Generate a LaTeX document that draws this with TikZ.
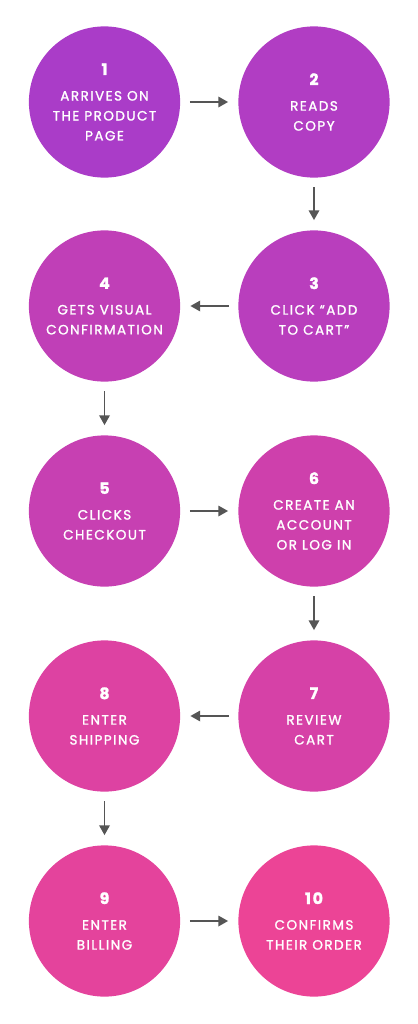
\documentclass[tikz,border=0pt]{standalone}
\usepackage{fontspec}
\setmainfont{Poppins}
\newfontfamily\capsfont[LetterSpace=11,FakeBold=1.4]{Poppins}
\usetikzlibrary{arrows.meta,positioning}

\definecolor{flowtop}{RGB}{170,60,200}
\definecolor{flowbot}{RGB}{236,68,150}
\definecolor{arrowgray}{RGB}{85,85,85}

\tikzset{
  stepnode/.style={circle, minimum size=3.78cm, inner sep=0pt, text=white,
    align=center, font=\capsfont\fontsize{9.6}{14.2}\selectfont},
  flow/.style={-{Triangle[length=7pt,width=7.5pt]}, line width=1.2pt,
    draw=arrowgray, shorten <=0.24cm, shorten >=0.25cm}
}
\newcommand{\stepnum}[1]{{\bfseries\fontsize{11.2}{14.2}\selectfont #1}\\[4pt]}

\begin{document}
\begin{tikzpicture}
  \useasboundingbox (0,0) rectangle (10.45,-25.6);

  % the ten steps, zig-zag from top to bottom
  \foreach \n/\x/\y/\txt in {
      1/2.6125/-2.55/{ARRIVES ON\\THE PRODUCT\\PAGE},
      2/7.85/-2.55/{READS\\COPY},
      3/7.85/-7.65/{CLICK “ADD\\TO CART”},
      4/2.6125/-7.65/{GETS VISUAL\\CONFIRMATION},
      5/2.6125/-12.775/{CLICKS\\CHECKOUT},
      6/7.85/-12.775/{CREATE AN\\ACCOUNT\\OR LOG IN},
      7/7.85/-17.9/{REVIEW\\CART},
      8/2.6125/-17.9/{ENTER\\SHIPPING},
      9/2.6125/-23.025/{ENTER\\BILLING},
      10/7.85/-23.025/{CONFIRMS\\THEIR ORDER}}{
    \pgfmathtruncatemacro{\pct}{(\n-1)*100/9}
    \node[stepnode, fill=flowbot!\pct!flowtop] (s\n) at (\x,\y) {\stepnum{\n}\txt};
  }

  % arrows between consecutive steps
  \foreach \a/\b in {1/2,2/3,3/4,4/5,5/6,6/7,7/8,8/9,9/10}
    \draw[flow] (s\a) -- (s\b);
\end{tikzpicture}
\end{document}
